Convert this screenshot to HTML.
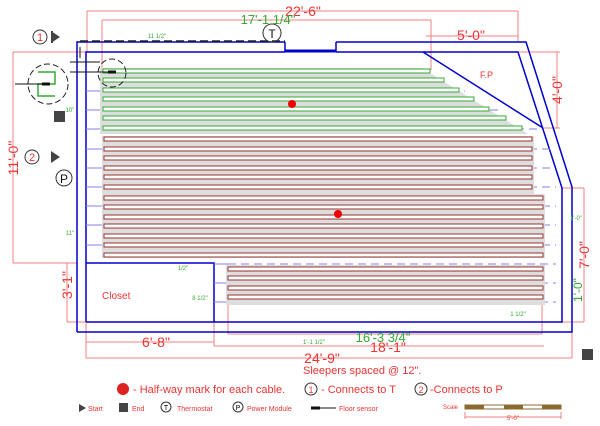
<!DOCTYPE html><html><head><style>body{margin:0;background:#fff}svg{display:block}</style></head><body>
<svg width="600" height="426" viewBox="0 0 600 426" xmlns="http://www.w3.org/2000/svg" font-family="Liberation Sans, sans-serif">
<g stroke="#f08080" stroke-width="1" fill="none">
<path d="M87 11H518M87 11V52M518 11V42M102 20H431M102 20V70M431 20V70M426 36H518"/>
<path d="M13 52H86M13 52V263M13 263H77M67 263V322M67 322H86"/>
<path d="M518 52H560M557 52V128M543 128H560M562 188H584M584 188V322M562 322H584"/>
<path d="M86 342H214M214 346H544M86 358H572M86 322V358M214 322V346M228 300V334M228 334H542M542 300V334M572 332V358"/>
</g>
<g stroke="#0000cc" fill="none" stroke-width="1.5">
<path d="M77 332V42H285M336 42H526L572 187V332H77"/>
<path d="M86 322V52H285M336 52H518L562 188V322H86M423 52L543 128"/>
<path d="M285 42V51H336V42" /><path d="M285 51H336" stroke-width="3"/>
<path d="M86 263H214V322"/>
</g>
<path d="M80 41H285" stroke="#222" stroke-width="1.5" stroke-dasharray="8,4"/>
<g stroke="#8080ee" stroke-width="1" stroke-dasharray="8,5">
<path d="M100 72H426M100 91H465M100 110H500M100 129H540M100 149H550M100 168H555M100 187H556M100 206H556M100 225H556M100 245H556M215 264H556M215 283H556M215 302H556"/>
</g>
<g stroke="#8080ee"><path d="M86 72H100M86 91H100M86 110H100M86 129H100M86 149H100M86 168H100M86 187H100M86 206H100M86 225H100M86 245H100M214 264H228M214 283H228M214 302H228"/></g>
<path d="M100 68H422L528 134H100Z" fill="#ddd"/>
<g stroke="#33aa33" fill="#fff" stroke-width="1">
<rect x="103" y="69" width="327" height="4"/><rect x="103" y="78" width="341" height="4"/><rect x="103" y="88" width="356" height="4"/><rect x="103" y="97" width="371" height="4"/><rect x="103" y="107" width="386" height="4"/><rect x="103" y="116" width="403" height="4"/><rect x="103" y="126" width="419" height="4"/>
</g>
<rect x="102" y="136" width="432" height="58" fill="#ddd"/>
<rect x="102" y="194" width="443" height="64" fill="#ddd"/>
<rect x="226" y="265" width="319" height="40" fill="#ddd"/>
<g stroke="#993333" fill="#fff" stroke-width="1">
<rect x="104" y="137" width="428" height="4"/><rect x="104" y="147" width="428" height="4"/><rect x="104" y="156" width="428" height="4"/><rect x="104" y="166" width="428" height="4"/><rect x="104" y="175" width="428" height="4"/><rect x="104" y="185" width="428" height="4"/>
<rect x="104" y="196" width="439" height="4"/><rect x="104" y="205" width="439" height="4"/><rect x="104" y="215" width="439" height="4"/><rect x="104" y="224" width="439" height="4"/><rect x="104" y="234" width="439" height="4"/><rect x="104" y="243" width="439" height="4"/><rect x="104" y="253" width="439" height="4"/>
<rect x="228" y="267" width="315" height="4"/><rect x="228" y="276" width="315" height="4"/><rect x="228" y="286" width="315" height="4"/><rect x="228" y="295" width="315" height="4"/>
</g>
<circle cx="292" cy="104" r="4" fill="#e00"/><circle cx="338" cy="214" r="4" fill="#e00"/>
<g fill="none" stroke="#222" stroke-dasharray="6,3"><circle cx="112" cy="73" r="14"/><circle cx="48" cy="84" r="20"/></g>
<path d="M38 72H55V84H45M55 84H38V96H55" fill="none" stroke="#3a3" stroke-width="1.5"/>
<path d="M15 84H50M78 72H116" stroke="#111"/><path d="M42 84H50M108 72H116" stroke="#111" stroke-width="3"/>
<path d="M80 47V58M70 62H100M70 72H100" stroke="#111"/>
<rect x="54" y="111" width="11" height="11" fill="#444"/><rect x="582" y="349" width="11" height="11" fill="#444"/>
<g fill="none" stroke="#333"><circle cx="40" cy="37" r="7"/><circle cx="32" cy="157" r="7"/><circle cx="64" cy="178" r="8"/><circle cx="272" cy="33" r="9"/></g>
<g fill="#444"><path d="M51 31L60 37L51 43Z"/><path d="M51 151L60 157L51 163Z"/><path d="M51 31H53V43H51Z"/></g>
<g font-size="11" fill="#e33" text-anchor="middle"><text x="40" y="41">1</text><text x="32" y="161">2</text></g>
<g font-size="12" fill="#111" text-anchor="middle"><text x="64" y="183">P</text><text x="272" y="38">T</text></g>
<g fill="#e33" font-size="14" text-anchor="middle">
<text x="303" y="16">22'-6"</text><text x="471" y="40">5'-0"</text><text x="156" y="347">6'-8"</text><text x="388" y="352">18'-1"</text><text x="322" y="363">24'-9"</text>
<text transform="translate(18,158) rotate(-90)">11'-0"</text><text transform="translate(562,90) rotate(-90)">4'-0"</text><text transform="translate(589,255) rotate(-90)">7'-0"</text><text transform="translate(72,285) rotate(-90)">3'-1"</text>
</g>
<g fill="#3a3" text-anchor="middle"><text x="268" y="24" font-size="13">17'-1 1/4"</text><text x="383" y="342" font-size="13">16'-3 3/4"</text><text transform="translate(582,290) rotate(-90)" font-size="12">1'-0"</text>
<g font-size="6"><text x="157" y="38">11 1/2"</text><text x="70" y="112">10"</text><text x="70" y="235">11"</text><text x="183" y="270">1/2"</text><text x="200" y="300">8 1/2"</text><text x="518" y="316">1 1/2"</text><text x="314" y="344">1'-1 1/2"</text><text x="576" y="220">1'-0"</text></g></g>
<text x="480" y="78" font-size="9" fill="#e33">F.P</text>
<text x="102" y="299" font-size="10" fill="#e33">Closet</text>
<text x="303" y="374" font-size="11" fill="#e33">Sleepers spaced @ 12".</text>
<circle cx="123" cy="389" r="6" fill="#d22"/>
<text x="133" y="393" font-size="11" fill="#e33">- Half-way mark for each cable.</text>
<circle cx="311" cy="389" r="6" fill="none" stroke="#333"/><text x="311" y="393" font-size="9" fill="#e33" text-anchor="middle">1</text><text x="321" y="393" font-size="11" fill="#e33">- Connects to T</text>
<circle cx="421" cy="389" r="6" fill="none" stroke="#333"/><text x="421" y="393" font-size="9" fill="#e33" text-anchor="middle">2</text><text x="430" y="393" font-size="11" fill="#e33">-Connects to P</text>
<path d="M79 404L86 408L79 412Z" fill="#444"/><text x="88" y="411" font-size="7" fill="#e33">Start</text>
<rect x="119" y="403" width="9" height="9" fill="#444"/><text x="132" y="411" font-size="7" fill="#e33">End</text>
<circle cx="166" cy="407" r="5" fill="none" stroke="#333"/><text x="166" y="410" font-size="7" text-anchor="middle">T</text><text x="177" y="411" font-size="7" fill="#e33">Thermostat</text>
<circle cx="238" cy="407" r="5" fill="none" stroke="#333"/><text x="238" y="410" font-size="7" text-anchor="middle">P</text><text x="247" y="411" font-size="7" fill="#e33">Power Module</text>
<path d="M311 408H320" stroke="#111" stroke-width="3"/><path d="M320 408H336" stroke="#111"/><text x="339" y="411" font-size="7" fill="#e33">Floor sensor</text>
<text x="443" y="409" font-size="6" fill="#e33">Scale</text>
<rect x="465" y="405" width="96" height="4" fill="#fff" stroke="#8b6a30"/>
<g fill="#8b6a30"><rect x="465" y="405" width="19" height="4"/><rect x="504" y="405" width="19" height="4"/><rect x="542" y="405" width="19" height="4"/></g>
<path d="M465 417H561M465 412V419M561 412V419" stroke="#f08080"/><text x="513" y="420" font-size="6" fill="#e33" text-anchor="middle">5'-0"</text>
</svg></body></html>
